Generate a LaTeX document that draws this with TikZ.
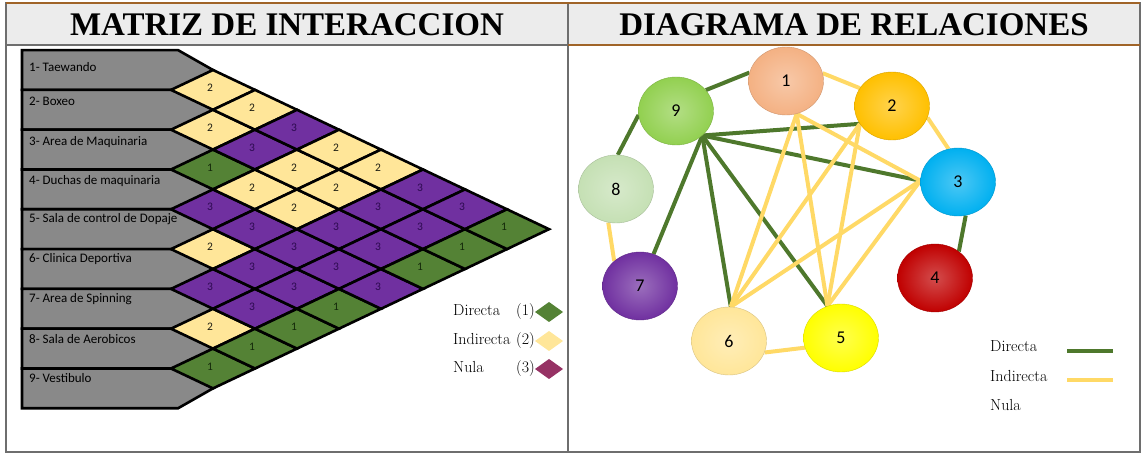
\documentclass[tikz,border=0pt]{standalone}
\usepackage{fontspec}
\usepackage{tikz}
\usetikzlibrary{calc}
\usetikzlibrary{shapes}
\usetikzlibrary{shapes.geometric}
\newfontfamily\labelfont{Carlito}
\newfontfamily\headfont{Liberation Serif}
\definecolor{frameGray}{RGB}{110,110,110}
\definecolor{headGray}{RGB}{236,236,236}
\definecolor{topBrown}{RGB}{160,100,40}
\definecolor{rowGray}{RGB}{137,137,137}
\definecolor{val1}{RGB}{84,130,53}
\definecolor{val2}{RGB}{255,230,153}
\definecolor{val3}{RGB}{112,48,160}
\definecolor{txt1}{RGB}{20,40,10}
\definecolor{txt2}{RGB}{30,30,20}
\definecolor{txt3}{RGB}{45,10,80}
\definecolor{nulaPlum}{RGB}{150,50,100}
\definecolor{lineGreen}{RGB}{78,120,44}
\definecolor{lineYellow}{RGB}{255,217,102}
\definecolor{b1}{RGB}{244,177,131}
\definecolor{b2}{RGB}{255,192,0}
\definecolor{b3}{RGB}{0,176,240}
\definecolor{b4}{RGB}{192,0,0}
\definecolor{b5}{RGB}{255,255,0}
\definecolor{b6}{RGB}{255,230,153}
\definecolor{b7}{RGB}{112,48,160}
\definecolor{b8}{RGB}{197,224,180}
\definecolor{b9}{RGB}{146,208,80}
\pgfdeclarelayer{bg}
\pgfsetlayers{bg,main}

\begin{document}
\begin{tikzpicture}[x=1pt,y=-1pt,
    frame/.style={draw=frameGray,line width=2pt},
    brownline/.style={draw=topBrown,line width=2.5pt},
    headtitle/.style={anchor=base,font=\headfont\bfseries\fontsize{33}{36}\selectfont},
    rowbox/.style={draw=black,line width=2.6pt,fill=rowGray,line join=miter},
    rowlabel/.style={anchor=west,inner sep=0pt,font=\labelfont\fontsize{13}{14}\selectfont},
    cell/.style={draw=black,line width=2.6pt,line join=miter},
    cellnum/.style={inner sep=0pt,font=\labelfont\fontsize{11.5}{12}\selectfont},
    legtext/.style={anchor=base west,inner sep=0pt,font=\fontsize{16}{18}\selectfont},
    ball/.style={ellipse,minimum width=75pt,minimum height=68pt,inner sep=0pt,
      shade,shading=radial,inner color=#1!70!white,outer color=#1,draw=#1!85!black,
      font=\labelfont\fontsize{18}{19}\selectfont},
    directa/.style={draw=lineGreen,line width=4pt},
    indirecta/.style={draw=lineYellow,line width=4pt}]
\useasboundingbox (0,0) rectangle (1144,454);

% tabla
\fill[headGray] (6,3) rectangle (1140,45);
\draw[frame] (6,3) rectangle (1140,452);
\draw[frame] (6,45) -- (568,45);
\draw[frame] (568,3) -- (568,452);
\draw[brownline] (568,45) -- (1140,45);
\draw[brownline] (6,3) -- (1140,3);
\node[headtitle] (tmatriz) at (287,36) {MATRIZ DE INTERACCION};
\node[headtitle] (tdiagrama) at (854,36) {DIAGRAMA DE RELACIONES};

% filas de la matriz
\foreach \k/\name/\dy in {1/1- Taewando/-3, 2/2- Boxeo/-8, 3/3- Area de Maquinaria/-8,
    4/4- Duchas de maquinaria/-8, 5/5- Sala de control de Dopaje/-10, 6/6- Clinica Deportiva/-10,
    7/7- Area de Spinning/-10, 8/8- Sala de Aerobicos/-10, 9/9- Vestibulo/-10} {
  \pgfmathsetmacro{\c}{70+(\k-1)*39.8}
  \draw[rowbox] (22,\c-19.9) -- (178,\c-19.9) -- (213,\c) -- (178,\c+19.9) -- (22,\c+19.9) -- cycle;
  \node[rowlabel] (row\k) at (29,\c+\dy) {\name};
}

% celdas i/j/valor
\foreach \i/\j/\v in {1/2/2, 2/3/2, 3/4/1, 4/5/3, 5/6/2, 6/7/3, 7/8/2, 8/9/1,
    1/3/2, 2/4/3, 3/5/2, 4/6/3, 5/7/3, 6/8/3, 7/9/1,
    1/4/3, 2/5/2, 3/6/2, 4/7/3, 5/8/3, 6/9/1,
    1/5/2, 2/6/2, 3/7/3, 4/8/3, 5/9/1,
    1/6/2, 2/7/3, 3/8/3, 4/9/3,
    1/7/3, 2/8/3, 3/9/1,
    1/8/3, 2/9/1,
    1/9/1} {
  \pgfmathsetmacro{\cx}{213+(\j-\i-1)*42}
  \pgfmathsetmacro{\cy}{70+((\i+\j)/2-1)*39.8}
  \draw[cell,fill=val\v] (\cx-42,\cy) -- (\cx,\cy-19.9) -- (\cx+42,\cy) -- (\cx,\cy+19.9) -- cycle;
  \node[cellnum,text=txt\v] (c\i\j) at (\cx-3,\cy-2) {\v};
}

% leyenda matriz
\node[legtext] (ldir) at (453,316) {Directa};
\node[legtext] (lind) at (453,345) {Indirecta};
\node[legtext] (lnul) at (453,373) {Nula};
\node[legtext,anchor=base east] (ldir1) at (535,316) {(1)};
\node[legtext,anchor=base east] (lind2) at (535,345) {(2)};
\node[legtext,anchor=base east] (lnul3) at (535,373) {(3)};
\fill[val1] (535,312) -- (549,302) -- (563,312) -- (549,322) -- cycle;
\fill[val2] (535,341) -- (549,331) -- (563,341) -- (549,351) -- cycle;
\fill[nulaPlum] (535,369) -- (549,359) -- (563,369) -- (549,379) -- cycle;

% diagrama de relaciones
\node[ball=b1] (n1) at (786,81) {1};
\node[ball=b2] (n2) at (892,106) {2};
\node[ball=b3] (n3) at (958,182) {3};
\node[ball=b4] (n4) at (935,278) {4};
\node[ball=b5] (n5) at (841,338) {5};
\node[ball=b6] (n6) at (729,341) {6};
\node[ball=b7] (n7) at (640,286) {7};
\node[ball=b8] (n8) at (616,189) {8};
\node[ball=b9] (n9) at (676,111) {9};

\begin{pgfonlayer}{bg}
\draw[directa] (n9.35) -- (n1.167);
\draw[directa] (n9.186) -- (n8.87);
\draw[directa] (n9.-43) -- (n2.-151);
\draw[directa] (n9.-43) -- (n3.178);
\draw[directa] (n9.-43) -- (n7.67);
\draw[directa] (n9.-43) -- (n6.87);
\draw[directa] (n9.-43) -- (n5.113);
\draw[directa] (n3.-77) -- (n4.48);
\draw[indirecta] (n1.12) -- (n2.151);
\draw[indirecta] (n1.-72) -- (n3.178);
\draw[indirecta] (n1.-72) -- (n6.87);
\draw[indirecta] (n1.-72) -- (n5.113);
\draw[indirecta] (n2.-18) -- (n3.106);
\draw[indirecta] (n2.-151) -- (n6.87);
\draw[indirecta] (n2.-151) -- (n5.113);
\draw[indirecta] (n3.178) -- (n6.87);
\draw[indirecta] (n3.178) -- (n5.113);
\draw[indirecta] (n8.-103) -- (n7.136);
\draw[indirecta] (n6.-18) -- (n5.195);
\end{pgfonlayer}

% leyenda diagrama
\node[legtext] (rdir) at (990,352) {Directa};
\node[legtext] (rind) at (990,382) {Indirecta};
\node[legtext] (rnul) at (990,410) {Nula};
\coordinate (gA) at (1067,351);
\coordinate (gB) at (1113,351);
\coordinate (yA) at (1067,380);
\coordinate (yB) at (1113,380);
\draw[directa] (gA) -- (gB);
\draw[indirecta] (yA) -- (yB);
\end{tikzpicture}
\end{document}
